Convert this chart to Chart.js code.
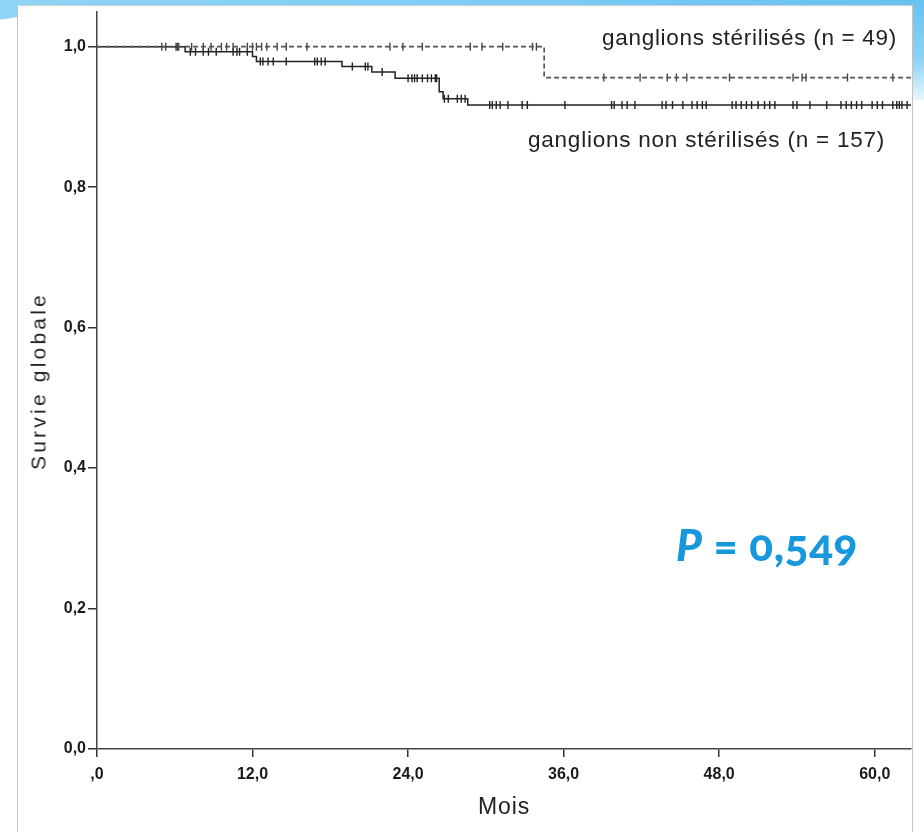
<!DOCTYPE html>
<html>
<head>
<meta charset="utf-8">
<script src="https://cdn.jsdelivr.net/npm/chart.js@4/dist/chart.umd.min.js"></script>
<style>
  html, body { margin: 0; padding: 0; width: 924px; height: 832px; overflow: hidden; background: #ffffff; }
  #topband { position: absolute; left: 0; top: 0; width: 924px; height: 8px;
    background: linear-gradient(90deg, #8fd3f7 0%, #7fcdf6 50%, #66c1f1 100%); }
  #swoosh { position: absolute; left: -160px; top: -40px; width: 230px; height: 62px; border-radius: 50%; background: #8fd3f7; }
  #rightband { position: absolute; left: 912px; top: 0; width: 12px; height: 100px;
    background: linear-gradient(180deg, #66c1f1 0%, #8fd3f7 60%, rgba(200,235,252,0.4) 100%); }
  #panel { position: absolute; left: 17px; top: 5px; width: 894px; height: 840px; background: #fff;
    border-left: 1px solid #c4c4c4; border-top: 1px solid #d0d0d0; border-right: 1px solid #c4c4c4; }
  #chart { position: absolute; left: 0; top: 0; }
  .txt { position: absolute; white-space: nowrap; font-family: "Liberation Sans", Arial, sans-serif; color: #222; line-height: 1; }
  #lab1 { left: 602px; top: 27px; font-size: 22.5px; }
  #lab2 { left: 528px; top: 129px; font-size: 22.5px; }
  #pval { left: 676px; top: 522px; font-family: Lato, "Open Sans", sans-serif; font-weight: 900; font-size: 44px; color: #1797dc;
    font-variant-numeric: oldstyle-nums; font-feature-settings: "onum" 1; }
  #pval i { font-style: italic; }
  #ytitle { left: 38px; top: 381px; font-size: 21px; transform: translate(-50%, -50%) rotate(-90deg); transform-origin: center center; }
  #xtitle { left: 504px; top: 806px; font-size: 23px; transform: translate(-50%, -50%); }
</style>
</head>
<body>
<div id="topband"></div>
<div id="swoosh"></div>
<div id="rightband"></div>
<div id="panel"></div>
<canvas id="chart" width="924" height="832"></canvas>
<div class="txt" id="lab1">ganglions stérilisés (n = 49)</div>
<div class="txt" id="lab2">ganglions non stérilisés (n = 157)</div>
<div class="txt" id="pval"><i>P</i> = 0,549</div>
<div class="txt" id="ytitle">Survie globale</div>
<div class="txt" id="xtitle">Mois</div>
<script>
// ---------- data (months / survival probability) ----------
const followUpEnd = 62.8;
const xTickValues = [0, 12, 24, 36, 48, 60];
const yTickValues = [0, 0.2, 0.4, 0.6, 0.8, 1.0];

// ganglions stérilisés (n = 49)
const steriEventTimes = [34.5];
const steriEventSurv  = [0.956];
const steriCensorTimes = [5.0, 5.3, 6.1, 6.2, 6.3, 7.3, 8.2, 8.8, 9.6, 10.0, 10.5, 11.6, 12.0, 12.3, 12.7, 13.1,
  13.9, 14.6, 16.2, 22.6, 23.6, 25.1, 28.8, 29.7, 31.3, 33.6, 33.9, 39.1, 41.9, 44.0, 44.7, 45.5, 48.8, 53.7,
  54.4, 54.7, 57.9, 61.4];

// ganglions non stérilisés (n = 157)
const nonSteriEventTimes = [6.8, 12.0, 12.3, 18.9, 21.2, 23.0, 26.4, 26.7, 28.6];
const nonSteriEventSurv  = [0.993, 0.986, 0.979, 0.972, 0.964, 0.955, 0.936, 0.926, 0.917];
const nonSteriCensorTimes = [7.2, 7.6, 8.2, 8.6, 9.2, 10.5, 10.8, 11.0, 11.6,
  12.6, 12.8, 13.2, 13.6, 14.6, 16.8, 17.0, 17.3, 17.6,
  19.7, 20.7, 20.9, 22.0,
  24.0, 24.3, 24.5, 24.7, 25.1, 25.5, 25.8, 26.1, 26.2,
  26.8, 27.1, 27.8, 28.1, 28.4,
  30.3, 30.5, 30.8, 31.1, 31.7, 32.8, 33.2, 36.1, 39.7, 39.9, 40.5, 40.9, 41.5, 43.6, 43.9, 44.4, 45.2,
  45.9, 46.3, 46.7, 47.0, 49.0, 49.3, 49.7, 50.1, 50.5, 51.0, 51.5, 51.9, 52.3, 53.7, 54.0, 55.0, 56.3,
  57.4, 57.8, 58.2, 58.6, 59.0, 59.8, 60.2, 60.6, 61.4, 61.7, 61.9, 62.1, 62.5];

// ---------- helpers building tables from the arrays ----------
function kmCurve(times, surv, end) {
  const pts = [{x: 0, y: 1}];
  times.forEach((t, i) => pts.push({x: t, y: surv[i]}));
  pts.push({x: end, y: surv.length ? surv[surv.length - 1] : 1});
  return pts;
}
function survAt(t, times, surv) {
  let s = 1;
  times.forEach((et, i) => { if (et <= t) s = surv[i]; });
  return s;
}
function censorPts(ctimes, times, surv) {
  return ctimes.map(t => ({x: t, y: survAt(t, times, surv)}));
}

const tickFont = { family: "'Liberation Sans', Arial, sans-serif", weight: 'bold', size: 16 };

new Chart(document.getElementById('chart'), {
  type: 'line',
  data: {
    datasets: [
      { data: kmCurve(steriEventTimes, steriEventSurv, followUpEnd), stepped: true, borderColor: '#555',
        borderWidth: 1.7, borderDash: [5, 3], pointRadius: 0, fill: false },
      { data: kmCurve(nonSteriEventTimes, nonSteriEventSurv, followUpEnd), stepped: true, borderColor: '#222',
        borderWidth: 1.5, pointRadius: 0, fill: false },
      { data: censorPts(steriCensorTimes, steriEventTimes, steriEventSurv), showLine: false, pointStyle: 'line',
        rotation: 90, pointRadius: 4, borderColor: '#444', borderWidth: 1.4, pointHoverRadius: 0 },
      { data: censorPts(nonSteriCensorTimes, nonSteriEventTimes, nonSteriEventSurv), showLine: false, pointStyle: 'line',
        rotation: 90, pointRadius: 4, borderColor: '#222', borderWidth: 1.4, pointHoverRadius: 0 }
    ]
  },
  options: {
    responsive: false,
    animation: false,
    devicePixelRatio: 1,
    layout: { padding: { top: 10, right: 13, left: 0, bottom: 0 } },
    plugins: { legend: { display: false }, tooltip: { enabled: false } },
    scales: {
      x: {
        type: 'linear', min: 0, max: followUpEnd, position: 'bottom',
        afterBuildTicks: s => { s.ticks = xTickValues.map(v => ({value: v})); },
        afterFit: s => { s.height = 83; },
        ticks: { font: tickFont, color: '#1a1a1a', padding: 8, maxRotation: 0,
          callback: v => v === 0 ? ',0' : v.toFixed(1).replace('.', ',') },
        grid: { drawOnChartArea: false, drawTicks: true, tickLength: 8, color: '#333', lineWidth: 1.5 },
        border: { display: true, color: '#444', width: 1.5 }
      },
      y: {
        type: 'linear', min: 0, max: 1.05,
        afterBuildTicks: s => { s.ticks = yTickValues.map(v => ({value: v})); },
        afterFit: s => { s.width = 97; },
        ticks: { font: tickFont, color: '#1a1a1a', padding: 2,
          callback: v => v.toFixed(1).replace('.', ',') },
        grid: { drawOnChartArea: false, drawTicks: true, tickLength: 9, color: '#333', lineWidth: 1.5 },
        border: { display: true, color: '#444', width: 1.5 }
      }
    }
  }
});

// fit the overlay texts' letter spacing to the reference text widths
function fit(id, target) {
  const el = document.getElementById(id);
  const n = el.textContent.length;
  const r = el.getBoundingClientRect();
  const natural = id === 'ytitle' ? r.height : r.width;
  el.style.letterSpacing = ((target - natural) / n) + 'px';
}
fit('lab1', 295);
fit('lab2', 357);
fit('ytitle', 178);
fit('xtitle', 52);
fit('pval', 182);
</script>
</body>
</html>
